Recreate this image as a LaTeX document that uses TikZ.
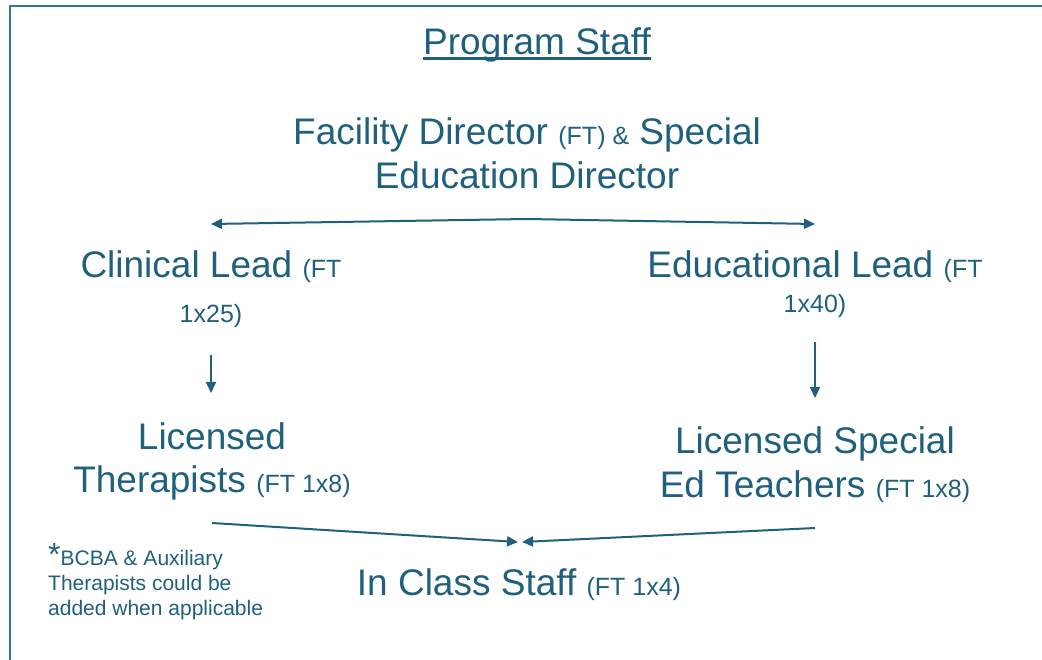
\documentclass[tikz,border=0pt]{standalone}
\usepackage{fontspec}
\setmainfont{Liberation Sans}
\usetikzlibrary{arrows.meta}
\definecolor{teal}{RGB}{31,96,125}
\definecolor{framec}{RGB}{50,118,150}
\newcommand{\sm}{\fontsize{25}{30}\selectfont}

\begin{document}
\begin{tikzpicture}[x=1pt, y=-1pt,
	ttl/.style={anchor=base, inner sep=0pt, align=center, text=teal},
	note/.style={anchor=base west, inner sep=0pt, align=left, text=teal, font=\fontsize{21}{25}\selectfont},
	arr/.style={draw=teal, line width=2pt, -{Triangle[length=11pt,width=10pt]}}]
	\clip (0,0) rectangle (1042,660);
	\draw[framec, line width=2.2pt] (10,6) rectangle (1080,700);
	% title
	\node[ttl, font=\fontsize{37}{44}\selectfont] (title) at (537,55) {Program Staff};
	\draw[teal, line width=3pt] ([yshift=-4pt]title.base west) -- ([yshift=-4pt]title.base east);
	% directors (base = last line)
	\node[ttl, font=\fontsize{37}{44}\selectfont] (fac) at (527,189) {Facility Director {\sm (FT) \&} Special\\Education Director};
	\node[ttl, font=\fontsize{37}{45}\selectfont] (clin) at (211,323) {Clinical Lead {\sm (FT}\\{\sm 1x25)}};
	\node[ttl, font=\fontsize{37}{35}\selectfont] (edu) at (815,313) {Educational Lead {\sm (FT}\\{\sm 1x40)}};
	\node[ttl, font=\fontsize{37}{43}\selectfont] (ther) at (212,492) {Licensed\\Therapists {\sm (FT 1x8)}};
	\node[ttl, font=\fontsize{37}{44}\selectfont] (spec) at (815,497) {Licensed Special\\Ed Teachers {\sm (FT 1x8)}};
	\node[ttl, font=\fontsize{37}{44}\selectfont] (cls) at (519,595) {In Class Staff {\sm (FT 1x4)}};
	\node[note] (fn) at (48,615) {{\fontsize{32}{25}\selectfont *}BCBA \& Auxiliary\\Therapists could be\\added when applicable};
	% connectors
	\coordinate (split) at (527,219);
	\draw[arr, {Triangle[length=11pt,width=10pt]}-{Triangle[length=11pt,width=10pt]}] (clin |- 0,224) -- (split) -- (edu |- 0,224);
	\draw[arr] (clin |- 0,355) -- (clin |- 0,393);
	\draw[arr] (edu |- 0,342) -- (edu |- 0,398);
	\coordinate (meet) at (520,542);
	\draw[arr] (ther |- 0,523) -- ([xshift=-2pt]meet);
	\draw[arr] (spec |- 0,528) -- ([xshift=2pt]meet);
\end{tikzpicture}
\end{document}
